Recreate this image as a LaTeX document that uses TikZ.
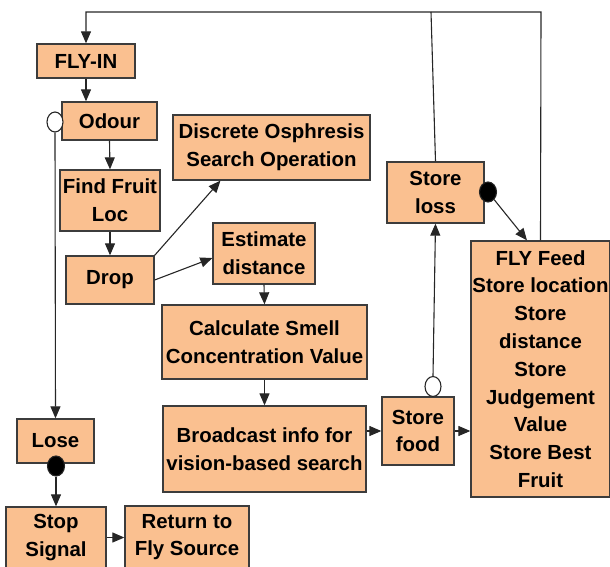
\documentclass[tikz,border=0pt]{standalone}
\usepackage{fontspec}
\setmainfont{Liberation Sans}
\usetikzlibrary{arrows.meta,shapes.geometric}
\definecolor{boxfill}{RGB}{250,192,144}
\definecolor{boxline}{RGB}{60,60,60}

\begin{document}
\begin{tikzpicture}[x=1pt,y=-1pt,
  box/.style={draw=boxline,line width=1.3pt,fill=boxfill,align=center,
    inner sep=0pt,font=\bfseries\fontsize{20.4}{27.8}\selectfont},
  link/.style={draw=black!85,line width=1.1pt},
  arr/.style={link,-{Triangle[length=12pt,width=10pt]}},
  opendot/.style={ellipse,draw=black!85,line width=1.1pt,fill=white,
    minimum width=16pt,minimum height=20pt,inner sep=0pt},
  fulldot/.style={opendot,fill=black,minimum width=17pt}]
\useasboundingbox (0,0) rectangle (610,567);

\node[box,minimum width=98pt,minimum height=34pt]  (flyin)     at (86,61)      {FLY-IN};
\node[box,minimum width=95pt,minimum height=38pt]  (odour)     at (109.5,121)  {Odour};
\node[box,minimum width=100pt,minimum height=61pt] (findfruit) at (110,200.5)  {Find Fruit\\Loc};
\node[box,minimum width=88pt,minimum height=48pt]  (drop)      at (110,280)    {Drop};
\node[box,minimum width=197pt,minimum height=65pt] (discrete)  at (271.5,147.5){Discrete Osphresis\\Search Operation};
\node[box,minimum width=102pt,minimum height=61pt] (estimate)  at (264,253.5)  {Estimate\\distance};
\node[box,minimum width=205pt,minimum height=74pt] (calc)      at (264.5,342)  {Calculate Smell\\Concentration Value};
\node[box,minimum width=203pt,minimum height=86pt] (bcast)     at (264.5,449)  {Broadcast info for\\vision-based search};
\node[box,minimum width=72pt,minimum height=68pt]  (storefood) at (418,431)    {Store\\food};
\node[box,minimum width=97pt,minimum height=61pt]  (storeloss) at (435.5,192.5){Store\\loss};
\node[box,minimum width=139pt,minimum height=256pt](flyfeed)   at (540.5,369)
  {FLY Feed\\Store location\\Store\\distance\\Store\\Judgement\\Value\\Store Best\\Fruit};
\node[box,minimum width=77pt,minimum height=44pt]  (lose)      at (55.5,441)   {Lose};
\node[box,minimum width=100pt,minimum height=61pt] (stop)      at (56,537.5)   {Stop\\Signal};
\node[box,minimum width=124pt,minimum height=62pt] (ret)       at (187,537)    {Return to\\Fly Source};

\node[opendot] (ocodour) at (55,122)  {};
\node[opendot] (ocfood)  at (433,386.5) {};
\node[fulldot] (fcloss)  at (488,192) {};
\node[fulldot] (fclose)  at (56,466)  {};

\coordinate (looptop) at (541,12);
\coordinate (lossup)  at (431,12);

\draw[arr] (flyfeed.north) -- (looptop) -| (flyin.north);
\draw[link] (storeloss.north) -- (lossup);
\draw[arr] (flyin.south) -- (flyin.south |- odour.north);
\draw[arr] (odour.south) -- (findfruit.north);
\draw[arr] (findfruit.south) -- (drop.north);
\draw[arr] (drop.north east) -- (discrete.213);
\draw[arr] (drop.east) -- (estimate.185);
\draw[arr] (estimate.south) -- (calc.north);
\draw[arr] (calc.south) -- (bcast.north);
\draw[arr] (storefood.west -| bcast.east) -- (storefood.west);
\draw[arr] (storefood.east) -- (storefood.east -| flyfeed.west);
\draw[arr] (ocfood.north) -- (storeloss.south);
\draw[arr] (fcloss) -- (flyfeed.96);
\draw[arr] (ocodour.south) -- (lose.north);
\draw[arr] (fclose.south) -- (stop.north);
\draw[arr] (stop.east) -- (stop.east -| ret.west);
\end{tikzpicture}
\end{document}
